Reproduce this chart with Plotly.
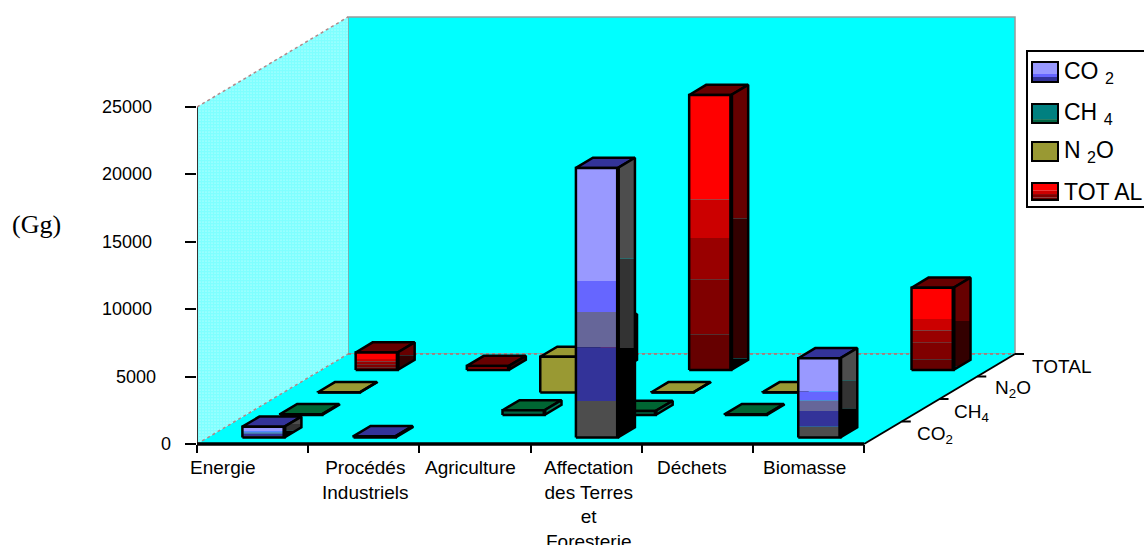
import plotly.graph_objects as go

# Emissions by sector (Gg)
sectors = ["Energie", "Procédés<br>Industriels", "Agriculture",
           "Affectation<br>des Terres<br>et<br>Foresterie", "Déchets", "Biomasse"]
co2 = [800, 100, 0, 20000, 0, 5880]
ch4 = [60, 0, 350, 300, 60, 0]
n2o = [20, 0, 2650, 20, 20, 0]
total = [1300, 300, 3400, 20400, 0, 6100]
value_ticks = [0, 5000, 10000, 15000, 20000, 25000]
gases = ["CO<sub>2</sub>", "CH<sub>4</sub>", "N<sub>2</sub>O", "TOTAL"]
legend_names = ["CO <sub>2</sub>", "CH <sub>4</sub>", "N <sub>2</sub>O", "TOT AL"]

W, H = 1144, 545
FLOOR_LEFT, FLOOR_Y = 197, 444
CAT_PX = 111.17
VAL_PX = 0.01348
# Oblique projection: one depth row shifts right and up by this many axis units
DEPTH_X = 37.75 / CAT_PX
DEPTH_Y = 22.5 / VAL_PX
BAR_OFFSET, BAR_WIDTH = 0.31, 0.378
ROW_OFFSET, ROW_DEPTH = 0.29, 0.45
THIN_BAR = 700  # below this height a bar is shaded with a single colour


def project(cat, depth, value):
    return cat + depth * DEPTH_X, value + depth * DEPTH_Y


def data_x(px):
    return (px - FLOOR_LEFT) / CAT_PX


def data_y(px):
    return (FLOOR_Y - px) / VAL_PX


def poly(points, color=None, line=None, width=0, name=None):
    xs = [p[0] for p in points]
    ys = [p[1] for p in points]
    kw = dict(fill="toself", fillcolor=color) if color else {}
    return go.Scatter(x=xs, y=ys, mode="lines", hoverinfo="skip", showlegend=False, name=name,
                      line=dict(color=line or "rgba(0,0,0,0)", width=width, simplify=False), **kw)


def clip_band(points, low, high):
    """Keep the part of a polygon lying between two horizontal levels."""
    def clip(pts, keep, level):
        out = []
        for i, a in enumerate(pts):
            b = pts[(i + 1) % len(pts)]
            if keep(a):
                out.append(a)
            if keep(a) != keep(b):
                t = (level - a[1]) / (b[1] - a[1])
                out.append((a[0] + t * (b[0] - a[0]), level))
        return out
    pts = clip(points, lambda p: p[1] >= low, low)
    return clip(pts, lambda p: p[1] <= high, high) if pts else []


def bar(fig, cat, row, value, style, name):
    x0, x1 = cat + BAR_OFFSET, cat + BAR_OFFSET + BAR_WIDTH
    d0, d1 = row + ROW_OFFSET, row + ROW_OFFSET + ROW_DEPTH
    # top face
    top = [project(x0, d0, value), project(x1, d0, value), project(x1, d1, value), project(x0, d1, value)]
    fig.add_trace(poly(top + top[:1], style["top"], "#000000", 2.5, name))
    # side face, shaded in horizontal bands
    side = [project(x1, d0, 0), project(x1, d1, 0), project(x1, d1, value), project(x1, d0, value)]
    if value < THIN_BAR:
        fig.add_trace(poly(side + side[:1], style["thin_side"], None, 0, name))
    else:
        y_hi = max(p[1] for p in side)
        y_lo = min(p[1] for p in side)
        prev = y_hi
        for stop, color in style["side"]:
            level = y_hi - stop * (y_hi - y_lo)
            band = clip_band(side, level, prev)
            if band:
                fig.add_trace(poly(band + band[:1], color, None, 0, name))
            prev = level
    fig.add_trace(poly(side + side[:1], None, "#000000", 2.5, name))
    # front face, shaded by fraction of the bar height
    front = [project(x0, d0, 0), project(x1, d0, 0), project(x1, d0, value), project(x0, d0, value)]
    if value < THIN_BAR:
        fig.add_trace(poly(front + front[:1], style["thin_front"], None, 0, name))
    else:
        prev = value
        for stop, color in style["front"]:
            level = value * (1 - stop)
            band = [project(x0, d0, prev), project(x1, d0, prev), project(x1, d0, level), project(x0, d0, level)]
            fig.add_trace(poly(band + band[:1], color, None, 0, name))
            prev = level
    fig.add_trace(poly(front + front[:1], None, "#000000", 2.5, name))
    fig.add_trace(poly([front[1], front[2]], None, "#000000", 4, name))


fig = go.Figure()

n_cat, n_row = len(sectors), len(gases)
top_val = value_ticks[-1]

# Chart box: back wall, floor, hatched side wall
back = [project(0, n_row, 0), project(n_cat, n_row, 0), project(n_cat, n_row, top_val), project(0, n_row, top_val)]
fig.add_trace(poly(back + back[:1], "#00FFFF", "#9A9A9A", 1.5))
floor = [project(0, 0, 0), project(n_cat, 0, 0), project(n_cat, n_row, 0), project(0, n_row, 0)]
fig.add_trace(poly(floor + floor[:1], "#00FFFF"))
wall = [project(0, 0, 0), project(0, n_row, 0), project(0, n_row, top_val), project(0, 0, top_val)]
fig.add_trace(go.Scatter(x=[p[0] for p in wall + wall[:1]], y=[p[1] for p in wall + wall[:1]],
                         mode="lines", fill="toself", fillcolor="#FFFFFF", hoverinfo="skip", showlegend=False,
                         fillpattern=dict(shape=".", fgcolor="#00FFFF", bgcolor="#FFFFFF", size=3, solidity=0.85),
                         line=dict(color="rgba(0,0,0,0)", width=0)))
for a, b, col, dash, width in [
    (wall[0], wall[3], "#333333", "solid", 2),
    (wall[3], wall[2], "#B08A8A", "dot", 1.5),
    (wall[0], wall[1], "#B08A8A", "dot", 1.5),
    (wall[1], floor[2], "#B07070", "dot", 1.5),
    (floor[0], floor[1], "#000000", "solid", 3.5),
    (floor[1], floor[2], "#000000", "solid", 2),
]:
    fig.add_trace(go.Scatter(x=[a[0], b[0]], y=[a[1], b[1]], mode="lines", hoverinfo="skip", showlegend=False,
                             line=dict(color=col, dash=dash, width=width)))

# Ticks along the depth edge
for row in range(1, n_row + 1):
    p = project(n_cat, row, 0)
    fig.add_trace(go.Scatter(x=[p[0], p[0] + 9 / CAT_PX], y=[p[1], p[1]], mode="lines",
                             hoverinfo="skip", showlegend=False, line=dict(color="#000000", width=2)))

styles = [
    dict(values=co2, top="#333399", thin_front="#1A1A4D", thin_side="#1A1A1A",
         front=[(0.42, "#9999FF"), (0.535, "#6666FF"), (0.665, "#666699"), (0.865, "#333399"), (1.0, "#4D4D4D")],
         side=[(0.36, "#4D4D4D"), (0.68, "#333333"), (1.0, "#000000")]),
    dict(values=ch4, top="#006633", thin_front="#006644", thin_side="#008060",
         front=[(1.0, "#006644")], side=[(1.0, "#006644")]),
    dict(values=n2o, top="#999933", thin_front="#4D4D19", thin_side="#4D4D19",
         front=[(1.0, "#999933")], side=[(1.0, "#4D4D19")]),
    dict(values=total, top="#660000", thin_front="#990000", thin_side="#330000",
         front=[(0.38, "#FF0000"), (0.52, "#CC0000"), (0.67, "#990000"), (0.87, "#800000"), (1.0, "#660000")],
         side=[(0.47, "#660000"), (0.96, "#330000"), (1.0, "#000000")]),
]

# Back row first so that nearer bars cover it
for row in reversed(range(n_row)):
    for cat, value in enumerate(styles[row]["values"]):
        if value > 0:
            bar(fig, cat, row, value, styles[row], gases[row])

annotations = []
TICK_FONT = dict(family="Liberation Sans", size=18, color="#000000")
AXIS_FONT = dict(family="Liberation Sans", size=19, color="#000000")

# Value labels sit left of the axis, outside the x range, so they use paper x
value_label_right = [173, 158, 154, 154, 154, 154]
for tick, px in zip(value_ticks, value_label_right):
    annotations.append(dict(x=px / W, y=tick, xref="paper", yref="y", text=str(tick), showarrow=False,
                            xanchor="right", yanchor="middle", font=TICK_FONT))

# Sector labels
cat_label_px = [223, 365, 470, 588, 692, 804]
for label, px in zip(sectors, cat_label_px):
    annotations.append(dict(x=data_x(px), y=data_y(455), xref="x", yref="y", text=label, showarrow=False,
                            xanchor="center", yanchor="top", align="center", font=AXIS_FONT))

# Gas labels on the depth edge
gas_label_px = [(935, 435), (971, 413), (1013, 389), (1061, 366)]
for label, (px, py) in zip(gases, gas_label_px):
    annotations.append(dict(x=data_x(px), y=data_y(py), xref="x", yref="y", text=label, showarrow=False,
                            xanchor="center", yanchor="middle", font=AXIS_FONT))

annotations.append(dict(x=10 / W, y=1 - 225 / H, xref="paper", yref="paper", text="(Gg)", showarrow=False,
                        xanchor="left", yanchor="middle",
                        font=dict(family="Liberation Serif", size=26, color="#000000")))

# Key box with shaded swatches
shapes = [dict(type="rect", xref="paper", yref="paper", x0=1027 / W, x1=1150 / W, y0=1 - 51 / H, y1=1 - 207 / H,
               line=dict(color="#000000", width=2), fillcolor="#FFFFFF", layer="below")]
swatch_rows = [(62, 82), (104, 123), (142, 161), (183, 200)]
swatch_bands = [
    [("#9999FF", 0.0, 0.6), ("#6666FF", 0.6, 0.75), ("#333399", 0.75, 1.0)],
    [("#008080", 0.0, 0.8), ("#006644", 0.8, 1.0)],
    [("#999933", 0.0, 1.0)],
    [("#FF0000", 0.0, 0.45), ("#CC0000", 0.45, 0.65), ("#800000", 0.65, 0.85), ("#660000", 0.85, 1.0)],
]
for name, (py0, py1), bands in zip(legend_names, swatch_rows, swatch_bands):
    for color, f0, f1 in bands:
        shapes.append(dict(type="rect", xref="paper", yref="paper", x0=1032 / W, x1=1058 / W,
                           y0=1 - (py0 + f0 * (py1 - py0)) / H, y1=1 - (py0 + f1 * (py1 - py0)) / H,
                           line=dict(width=0), fillcolor=color))
    shapes.append(dict(type="rect", xref="paper", yref="paper", x0=1032 / W, x1=1058 / W,
                       y0=1 - py0 / H, y1=1 - py1 / H, line=dict(color="#000000", width=2)))
    annotations.append(dict(x=1062 / W, y=1 - (py0 + py1) / 2 / H, xref="paper", yref="paper", text=name,
                            showarrow=False, xanchor="left", yanchor="middle",
                            font=dict(family="Liberation Sans", size=23, color="#000000")))

fig.update_layout(
    width=W, height=H, autosize=False,
    margin=dict(l=0, r=0, t=0, b=0),
    paper_bgcolor="#FFFFFF", plot_bgcolor="rgba(0,0,0,0)",
    showlegend=False,
    shapes=shapes, annotations=annotations,
    xaxis=dict(domain=[FLOOR_LEFT / W, 1], range=[0, (W - FLOOR_LEFT) / CAT_PX],
               anchor="free", position=(H - FLOOR_Y) / H,
               showgrid=False, zeroline=False, showline=False,
               tickmode="array", tickvals=list(range(n_cat + 1)), ticktext=[""] * (n_cat + 1),
               ticks="outside", ticklen=8, tickwidth=2, tickcolor="#000000"),
    yaxis=dict(domain=[0, 1], range=[-(H - FLOOR_Y) / VAL_PX, FLOOR_Y / VAL_PX],
               showgrid=False, zeroline=False, showline=False,
               tickmode="array", tickvals=value_ticks, ticktext=[""] * len(value_ticks),
               ticks="outside", ticklen=11, tickwidth=2, tickcolor="#000000"),
)

fig.write_html("out.html")
